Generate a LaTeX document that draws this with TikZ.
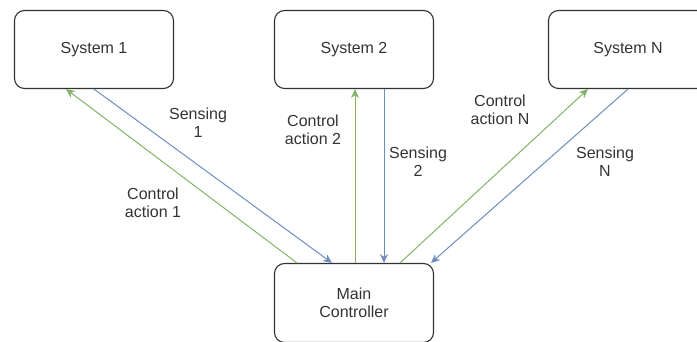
\documentclass[tikz,border=0pt]{standalone}
\usepackage{fontspec}
\setmainfont{Liberation Sans}
\usetikzlibrary{
    arrows.meta,
    positioning
}

\definecolor{ctrlgreen}{HTML}{82B366}
\definecolor{sensblue}{HTML}{6C8EBF}

\begin{document}
\begin{tikzpicture}[x=1pt,y=1pt,
    sysbox/.style={draw=black!80,line width=1.1pt,rounded corners=10pt,
        minimum width=159pt,minimum height=78pt,align=center,
        text=black!80,font=\fontsize{16}{18}\selectfont},
    lbl/.style={align=center,text=black!80,font=\fontsize{16}{18}\selectfont},
    ctrl/.style={draw=ctrlgreen,line width=1pt,-{Stealth[length=9pt,width=8pt]}},
    sens/.style={draw=sensblue,line width=1pt,-{Stealth[length=9pt,width=8pt]}}
]

\useasboundingbox (0,0) rectangle (697,342);
\clip (0,0) rectangle (697,342);

% Systems
\node[sysbox] (sys1) at (94,292.5) {System 1};
\node[sysbox] (sys2) at (354,292.5) {System 2};
\node[sysbox] (sysN) at (628,292.5) {System N};

% Controller
\node[sysbox,minimum height=79pt] (main) at (354,39) {Main\\Controller};

% Control actions
\draw[ctrl] ([xshift=-57pt]main.north) -- ([xshift=-28pt]sys1.south);
\draw[ctrl] ([xshift=1pt]main.north) -- ([xshift=1pt]sys2.south);
\draw[ctrl] ([xshift=46pt]main.north) -- ([xshift=-40pt]sysN.south);

% Sensing
\draw[sens] (sys1.south) -- ([xshift=-22pt]main.north);
\draw[sens] ([xshift=30pt]sys2.south) -- ([xshift=30pt]main.north);
\draw[sens] (sysN.south) -- ([xshift=77pt]main.north);

% Labels
\node[lbl] (lsens1) at (198,219) {Sensing\\1};
\node[lbl] (lctrl1) at (153,139) {Control\\action 1};
\node[lbl] (lctrl2) at (313,212) {Control\\action 2};
\node[lbl] (lsens2) at (418,180) {Sensing\\2};
\node[lbl] (lctrlN) at (500,232) {Control\\action N};
\node[lbl] (lsensN) at (605,180) {Sensing\\N};

\end{tikzpicture}
\end{document}
